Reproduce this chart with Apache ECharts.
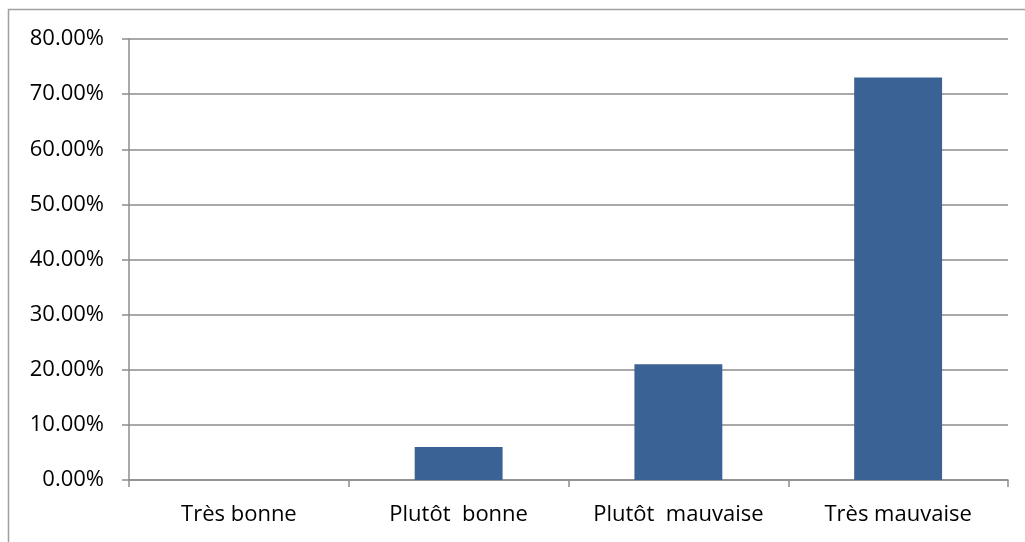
<!DOCTYPE html>
<html>
<head>
<meta charset="utf-8">
<script src="https://cdn.jsdelivr.net/npm/echarts@6/dist/echarts.min.js"></script>
<style>
html,body{margin:0;padding:0;background:#fff;}
#c{width:1025px;height:542px;}
</style>
</head>
<body>
<div id="c"></div>
<script>
const categories = ['Très bonne', 'Plutôt  bonne', 'Plutôt  mauvaise', 'Très mauvaise'];
const values = [0, 6, 21, 73];
const yTicks = [0, 10, 20, 30, 40, 50, 60, 70, 80];

const chart = echarts.init(document.getElementById('c'));
chart.setOption({
  animation: false,
  backgroundColor: '#fff',
  graphic: [{
    type: 'rect',
    shape: {x: 8.5, y: 9.5, width: 1100, height: 700},
    style: {fill: 'none', stroke: '#a0a0a0', lineWidth: 1.5},
    silent: true
  }],
  grid: {left: 129, right: 17, top: 39, bottom: 62, containLabel: false},
  xAxis: {
    type: 'category',
    data: categories,
    axisLine: {lineStyle: {color: '#8c8c8c', width: 1.5}},
    axisTick: {show: true, length: 7, lineStyle: {color: '#8c8c8c', width: 1.5}},
    axisLabel: {color: '#000', fontFamily: 'Open Sans', fontSize: 22, margin: 24, interval: 0}
  },
  yAxis: {
    type: 'value',
    min: yTicks[0],
    max: yTicks[yTicks.length - 1],
    interval: 10,
    axisLine: {show: true, lineStyle: {color: '#8c8c8c', width: 1.5}},
    axisTick: {show: true, length: 7, lineStyle: {color: '#8c8c8c', width: 1.5}},
    splitLine: {show: true, lineStyle: {color: '#8c8c8c', width: 1.5}},
    axisLabel: {color: '#000', fontFamily: 'Open Sans', fontSize: 22, margin: 25,
      formatter: v => v.toFixed(2) + '%'}
  },
  series: [{
    type: 'bar',
    data: values,
    barWidth: '40%',
    itemStyle: {color: '#3A6294'}
  }]
});
</script>
</body>
</html>
